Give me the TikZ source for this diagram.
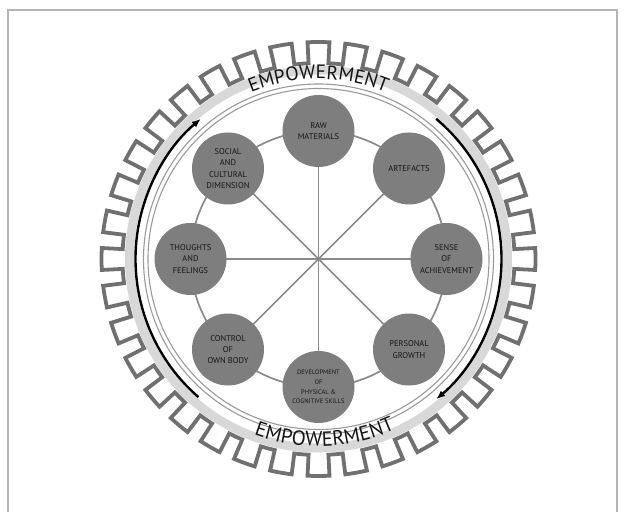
\documentclass[tikz,border=0pt]{standalone}
\usepackage{fontspec}
\setmainfont{PT Sans}
\usetikzlibrary{arrows.meta,decorations.text,backgrounds}
\definecolor{gearc}{HTML}{707070}
\definecolor{nodec}{HTML}{7E7E7E}
\definecolor{bandc}{HTML}{D8D8D8}
\definecolor{linec}{HTML}{8A8A8A}
\definecolor{thinc}{HTML}{9A9A9A}
\definecolor{txtc}{HTML}{151515}
\definecolor{framec}{HTML}{B4B4B4}
\begin{document}
\begin{tikzpicture}[x=1pt,y=1pt,
  nd/.style={circle,fill=nodec,minimum size=72pt,inner sep=0pt,align=center,text=txtc,font=\fontsize{8.4}{11.3}\selectfont},
  spoke/.style={draw=linec,line width=1.7pt},
  thinring/.style={draw=thinc,line width=1.1pt},
  flow/.style={draw=black,line width=2.4pt,-{Latex[length=9pt,width=7pt]}},
  bigtext/.style={decorate,decoration={text along path,text align=center,
     text={|\fontsize{#1}{#1}\selectfont\color{txtc}|EMPOWERMENT}}},
]
\useasboundingbox (0,0) rectangle (625,512);
\draw[framec,line width=1.8pt] (8,0) -- (8,502) -- (617,502) -- (617,0);
\begin{scope}[shift={(318.5,253)}]
\coordinate (ctr) at (0,0);
% gear
\draw[gearc,line width=3.8pt,line join=miter] (-2.9:196)
  \foreach \i in {0,...,35} { -- (\i*10-2.9:217)
     arc[start angle=\i*10-2.9,end angle=\i*10+2.9,radius=217]
     -- (\i*10+2.9:196)
     arc[start angle=\i*10+2.9,end angle=\i*10+7.1,radius=196]} -- cycle;
% band and rings
\draw[bandc,line width=9pt] (ctr) circle[radius=189];
\draw[thinring] (ctr) circle[radius=175];
\draw[thinring] (ctr) circle[radius=170.5];
% flow arrows
\draw[flow] (229:183) arc[start angle=229,end angle=130,radius=183];
\draw[flow] (50:183) arc[start angle=50,end angle=-50,radius=183];
% curved texts
\path[bigtext=19.5] (160:180) arc[start angle=160,end angle=20,radius=180];
\path[bigtext=20.5] (200:187) arc[start angle=200,end angle=344,radius=187];
% nodes
\node[nd] (raw) at (90:128) {RAW\\MATERIALS};
\node[nd] (art) at (45:128) {ARTEFACTS};
\node[nd] (sense) at (0:128) {SENSE\\OF\\ACHIEVEMENT};
\node[nd] (pers) at (-45:128) {PERSONAL\\GROWTH};
\node[nd,font=\fontsize{6.5}{9.6}\selectfont] (dev) at (-90:128) {DEVELOPMENT\\OF\\PHYSICAL \&\\COGNITIVE SKILLS};
\node[nd] (ctrl) at (-135:128) {CONTROL\\OF\\OWN BODY};
\node[nd] (thought) at (180:128) {THOUGHTS\\AND\\FEELINGS};
\node[nd] (soc) at (135:128) {SOCIAL\\AND\\CULTURAL\\DIMENSION};
\begin{scope}[on background layer]
\draw[spoke] (ctr) circle[radius=128];
\foreach \n in {raw,art,sense,pers,dev,ctrl,thought,soc}
  \draw[spoke] (ctr) -- (\n.center);
\end{scope}
\end{scope}
\end{tikzpicture}
\end{document}
